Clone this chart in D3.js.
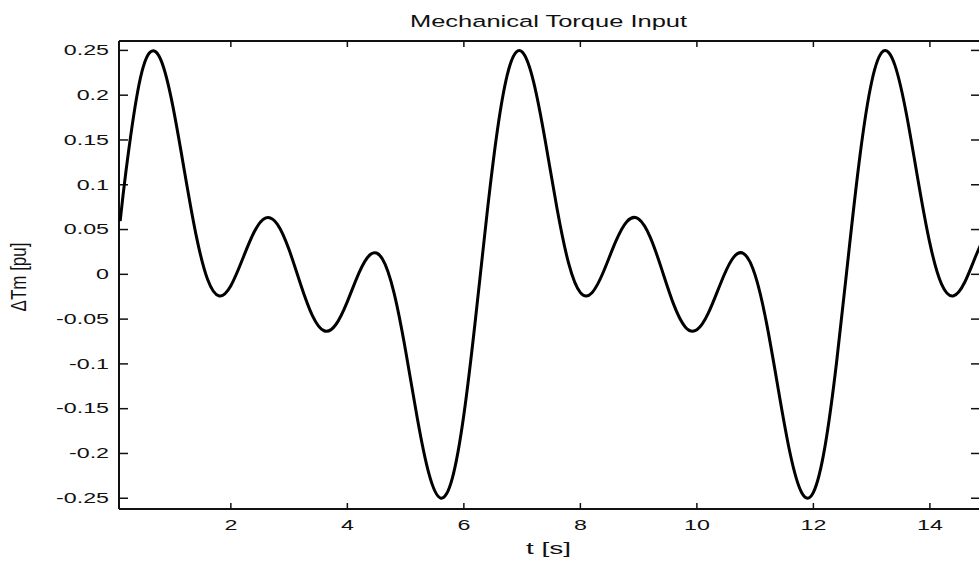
<!DOCTYPE html>
<meta charset="utf-8">
<style>
  body { margin: 0; background: #fff; }
  svg text { font-family: "Liberation Sans", Arial, sans-serif; fill: #111; }
  .axis path, .axis line { stroke: #111; }
</style>
<body>
<script src="https://d3js.org/d3.v7.min.js"></script>
<script>

const timeS = [0.1, 0.2, 0.4, 0.6, 0.8, 1.0, 1.2, 1.4, 1.6, 1.8, 2.0, 2.2, 2.4, 2.6, 2.8, 3.0,
  3.2, 3.4, 3.6, 3.8, 4.0, 4.2, 4.4, 4.6, 4.8, 5.0, 5.2, 5.4, 5.6, 5.8, 6.0, 6.2, 6.4, 6.6,
  6.8, 7.0, 7.2, 7.4, 7.6, 7.8, 8.0, 8.2, 8.4, 8.6, 8.8, 9.0, 9.2, 9.4, 9.6, 9.8, 10.0, 10.2,
  10.4, 10.6, 10.8, 11.0, 11.2, 11.4, 11.6, 11.8, 12.0, 12.2, 12.4, 12.6, 12.8, 13.0, 13.2,
  13.4, 13.6, 13.8, 14.0, 14.2, 14.4, 14.6, 14.8, 15.0];
const torque = [0.0594, 0.1153, 0.2039, 0.2471, 0.2392, 0.1892, 0.1165, 0.0449, -0.0055, -0.0241,
  -0.0127, 0.0168, 0.0473, 0.0631, 0.0558, 0.0274, -0.0116, -0.0461, -0.0630, -0.0563, -0.0304,
  0.0017, 0.0225, 0.0173, -0.0205, -0.0853, -0.1604, -0.2226, -0.2498, -0.2280, -0.1567, -0.0496,
  0.0691, 0.1717, 0.2353, 0.2484, 0.2141, 0.1480, 0.0732, 0.0119, -0.0204, -0.0205, 0.0034,
  0.0356, 0.0590, 0.0618, 0.0413, 0.0050, -0.0333, -0.0587, -0.0619, -0.0428, -0.0113, 0.0163,
  0.0233, -0.0009, -0.0559, -0.1293, -0.1998, -0.2439, -0.2434, -0.1918, -0.0971, 0.0202, 0.1327,
  0.2147, 0.2492, 0.2333, 0.1779, 0.1037, 0.0345, -0.0110, -0.0241, -0.0086, 0.0224, 0.0513];

const xTicks = [2, 4, 6, 8, 10, 12, 14];
const yTicks = [-0.25, -0.2, -0.15, -0.1, -0.05, 0, 0.05, 0.1, 0.15, 0.2, 0.25];
const yTickLabels = ["-0.25", "-0.2", "-0.15", "-0.1", "-0.05", "0", "0.05", "0.1", "0.15", "0.2", "0.25"];

const width = 979;
const height = 561;
const plotLeft = 119, plotRight = 980, plotTop = 41, plotBottom = 509;
const stretch = 1.55;   // the picture is squashed wider than it is tall

const svg = d3.select("body")
              .append("svg")
              .style("display", "block")
              .attr("width", width)
              .attr("height", height);

const x = d3.scaleLinear()
            .domain([0.08, 14.86])
            .range([plotLeft, plotRight]);

const y = d3.scaleLinear()
            .domain([-0.262, 0.2605])
            .range([plotBottom, plotTop]);

svg.append("defs").append("clipPath")
   .attr("id", "plot")
   .append("rect")
   .attr("x", plotLeft).attr("y", plotTop)
   .attr("width", plotRight - plotLeft).attr("height", plotBottom - plotTop);

function styleAxis(g) {
  g.attr("class", "axis")
   .attr("font-size", null)
   .attr("font-family", null);
  g.select(".domain").attr("stroke-width", 2);
  g.selectAll(".tick line").attr("stroke-width", 1.5);
  g.selectAll(".tick text")
   .style("font-size", "15px")
   .attr("transform", `scale(${stretch},1)`);
}

svg.append("g")
   .attr("transform", `translate(0,${plotBottom})`)
   .call(d3.axisBottom(x).tickValues(xTicks).tickSizeInner(-6).tickSizeOuter(0)
           .tickPadding(10.5).offset(0))
   .call(styleAxis);

svg.append("g")
   .attr("transform", `translate(0,${plotTop})`)
   .call(d3.axisTop(x).tickValues(xTicks).tickSizeInner(-6).tickSizeOuter(0)
           .tickFormat("").offset(0))
   .call(styleAxis);

svg.append("g")
   .attr("transform", `translate(${plotLeft},0)`)
   .call(d3.axisLeft(y).tickValues(yTicks).tickSizeInner(-9).tickSizeOuter(0)
           .tickPadding(10 / stretch)
           .tickFormat((d, i) => yTickLabels[i]).offset(0))
   .call(styleAxis);

svg.append("g")
   .attr("transform", `translate(${plotRight},0)`)
   .call(d3.axisRight(y).tickValues(yTicks).tickSizeInner(-9).tickSizeOuter(0)
           .tickFormat("").offset(0))
   .call(styleAxis);

const line = d3.line()
               .x(d => x(d[0]))
               .y(d => y(d[1]))
               .curve(d3.curveNatural);

svg.append("path")
   .datum(timeS.map((t, i) => [t, torque[i]]))
   .attr("clip-path", "url(#plot)")
   .attr("d", line)
   .attr("fill", "none")
   .attr("stroke", "#000")
   .attr("stroke-width", 3)
   .attr("stroke-linejoin", "round");

function label(str, px, py, size, sx, rot) {
  svg.append("text")
     .attr("transform", `translate(${px},${py}) scale(${sx},1)` + (rot ? ` rotate(${rot})` : ""))
     .attr("text-anchor", "middle")
     .style("font-size", size + "px")
     .text(str);
}

label("Mechanical Torque Input", (plotLeft + plotRight) / 2 - 1, 27, 17, 1.5);
label("t [s]", (plotLeft + plotRight) / 2 - 1, 554, 17, 1.65);
label("\u0394Tm [pu]", 26, 277, 17, 1.25, -90);
</script>
</body>
